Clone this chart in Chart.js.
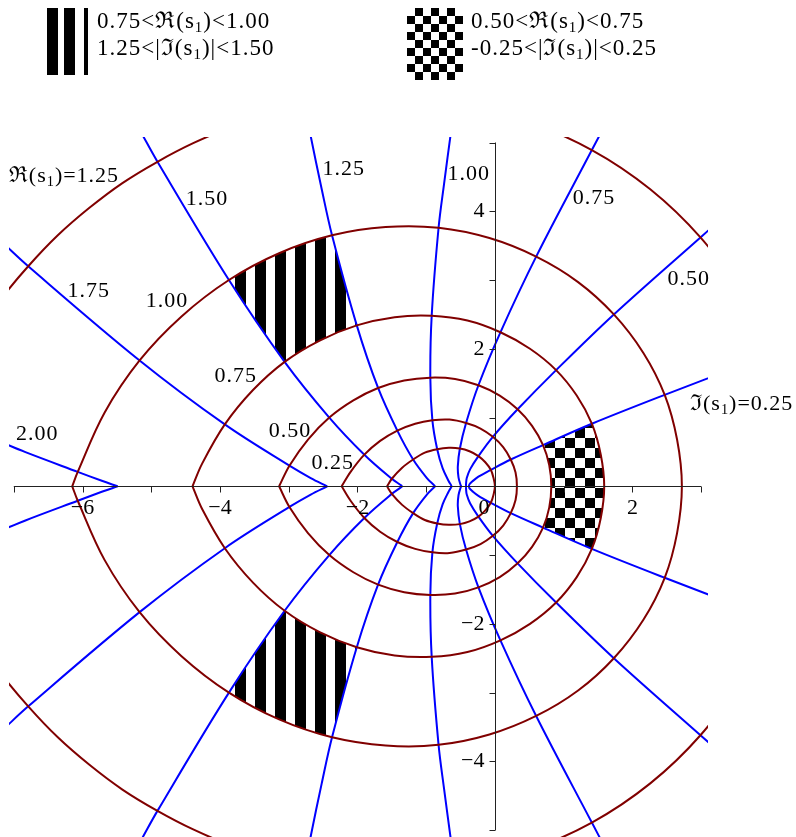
<!DOCTYPE html>
<html>
<head>
<meta charset="utf-8">
<script src="https://cdn.jsdelivr.net/npm/chart.js@4.4.1/dist/chart.umd.min.js"></script>
<style>
body { margin: 0; background: #fff; }
#wrap { position: relative; width: 796px; height: 837px; font-family: "Liberation Serif", "DejaVu Serif", serif; color: #000; overflow: hidden; }
#mycanvas { position: absolute; left: 0; top: 0; }
.lbl { position: absolute; white-space: nowrap; font-size: 22px; letter-spacing: 1px; line-height: 1; transform: translate(-50%, -50%); }
.leg { position: absolute; font-size: 23px; letter-spacing: 1px; line-height: 27px; white-space: nowrap; }
sub { font-size: 0.65em; vertical-align: -0.25em; line-height: 0; }
.bar { position: absolute; background: #000; top: 8px; height: 67px; }
.checker { position: absolute; left: 407px; top: 8px; width: 56px; height: 72px;
  background: repeating-conic-gradient(#000 0 25%, #fff 0 50%) 0 0 / 16px 16px; }
</style>
</head>
<body>
<div id="wrap">
  <canvas id="mycanvas" width="796" height="837"></canvas>
  <div class="bar" style="left:47px;width:11px"></div>
  <div class="bar" style="left:64px;width:11px"></div>
  <div class="bar" style="left:84px;width:4px"></div>
  <div class="leg" style="left:97px;top:7px">0.75&lt;ℜ(s<sub>1</sub>)&lt;1.00<br>1.25&lt;|ℑ(s<sub>1</sub>)|&lt;1.50</div>
  <div class="checker"></div>
  <div class="leg" style="left:471px;top:7px">0.50&lt;ℜ(s<sub>1</sub>)&lt;0.75<br>-0.25&lt;|ℑ(s<sub>1</sub>)|&lt;0.25</div>
</div>
<script>
// curves of constant Re(s1) (brown)
var re000 = [[-1.57,0],[-1.50,-0.11],[-1.35,-0.27],[-1.19,-0.39],[-1.02,-0.49],[-0.84,-0.54],[-0.67,-0.56],[-0.51,-0.55],[-0.37,-0.51],[-0.24,-0.44],[-0.14,-0.35],[-0.06,-0.24],[-0.02,-0.12],[0,0],
  [-0.02,0.12],[-0.06,0.24],[-0.14,0.35],[-0.24,0.44],[-0.37,0.51],[-0.51,0.55],[-0.67,0.56],[-0.84,0.54],[-1.02,0.49],[-1.19,0.39],[-1.35,0.27],[-1.50,0.11],[-1.57,0]];
var re025 = [[-2.23,0],[-2.10,-0.21],[-1.90,-0.46],[-1.67,-0.66],[-1.42,-0.81],[-1.16,-0.91],[-0.91,-0.96],[-0.66,-0.97],[-0.42,-0.92],[-0.21,-0.84],[-0.03,-0.72],[0.12,-0.57],[0.23,-0.39],[0.30,-0.20],[0.32,0],
  [0.30,0.20],[0.23,0.39],[0.12,0.57],[-0.03,0.72],[-0.21,0.84],[-0.42,0.92],[-0.66,0.97],[-0.91,0.96],[-1.16,0.91],[-1.42,0.81],[-1.67,0.66],[-1.90,0.46],[-2.10,0.21],[-2.23,0]];
var re050 = [[-3.14,0],[-2.99,-0.30],[-2.72,-0.68],[-2.41,-1.00],[-2.06,-1.25],[-1.70,-1.43],[-1.32,-1.54],[-0.94,-1.58],[-0.58,-1.56],[-0.24,-1.47],[0.07,-1.32],[0.33,-1.12],[0.54,-0.88],[0.70,-0.60],[0.79,-0.31],[0.82,0],
  [0.79,0.31],[0.70,0.60],[0.54,0.88],[0.33,1.12],[0.07,1.32],[-0.24,1.47],[-0.58,1.56],[-0.94,1.58],[-1.32,1.54],[-1.70,1.43],[-2.06,1.25],[-2.41,1.00],[-2.72,0.68],[-2.99,0.30],[-3.14,0]];
var re075 = [[-4.40,0],[-4.26,-0.33],[-3.93,-0.90],[-3.52,-1.40],[-3.06,-1.81],[-2.55,-2.12],[-2.01,-2.34],[-1.46,-2.46],[-0.92,-2.48],[-0.40,-2.41],[0.08,-2.24],[0.51,-2.00],[0.89,-1.69],[1.19,-1.32],[1.41,-0.91],[1.54,-0.46],[1.59,0],
  [1.54,0.46],[1.41,0.91],[1.19,1.32],[0.89,1.69],[0.51,2.00],[0.08,2.24],[-0.40,2.41],[-0.92,2.48],[-1.46,2.46],[-2.01,2.34],[-2.55,2.12],[-3.06,1.81],[-3.52,1.40],[-3.93,0.90],[-4.26,0.33],[-4.40,0]];
var re100 = [[-6.15,0],[-6.07,-0.21],[-5.68,-1.07],[-5.17,-1.83],[-4.56,-2.47],[-3.87,-3.00],[-3.14,-3.39],[-2.37,-3.65],[-1.59,-3.77],[-0.82,-3.76],[-0.08,-3.61],[0.60,-3.34],[1.21,-2.97],[1.73,-2.50],[2.16,-1.94],[2.47,-1.33],[2.65,-0.68],[2.72,0],
  [2.65,0.68],[2.47,1.33],[2.16,1.94],[1.73,2.50],[1.21,2.97],[0.60,3.34],[-0.08,3.61],[-0.82,3.76],[-1.59,3.77],[-2.37,3.65],[-3.14,3.39],[-3.87,3.00],[-4.56,2.47],[-5.17,1.83],[-5.68,1.07],[-6.07,0.21],[-6.15,0]];
var re125 = [[-7.55,-2.20],[-7.19,-2.72],[-6.79,-3.20],[-6.36,-3.65],[-5.90,-4.05],[-5.42,-4.41],[-4.91,-4.72],[-4.39,-4.99],[-3.86,-5.21],[-2.76,-5.52],[-1.66,-5.63],[-0.58,-5.56],[0.45,-5.31],[1.41,-4.89],[2.26,-4.32],[2.99,-3.62],[3.58,-2.82],[4.01,-1.92],[4.36,0],
  [4.01,1.92],[3.58,2.82],[2.99,3.62],[2.26,4.32],[1.41,4.89],[0.45,5.31],[-0.58,5.56],[-1.66,5.63],[-2.76,5.52],[-3.86,5.21],[-4.39,4.99],[-4.91,4.72],[-5.42,4.41],[-5.90,4.05],[-6.36,3.65],[-6.79,3.20],[-7.19,2.72],[-7.55,2.20]];

// curves of constant |Im(s1)| (blue), upper and lower branch
var im025 = [[-0.38,0],[-0.37,0.03],[-0.33,0.07],[-0.24,0.14],[-0.06,0.24],[0.23,0.39],[0.70,0.60],[1.41,0.91],[2.47,1.33],[4.01,1.92]];
var im025n = [[-0.38,0],[-0.37,-0.03],[-0.33,-0.07],[-0.24,-0.14],[-0.06,-0.24],[0.23,-0.39],[0.70,-0.60],[1.41,-0.91],[2.47,-1.33],[4.01,-1.92]];
var im050 = [[-0.42,0],[-0.42,0.04],[-0.41,0.12],[-0.36,0.25],[-0.24,0.44],[-0.03,0.72],[0.33,1.12],[0.89,1.69],[1.73,2.50],[2.99,3.62],[3.31,3.90]];
var im050n = [[-0.42,0],[-0.42,-0.04],[-0.41,-0.12],[-0.36,-0.25],[-0.24,-0.44],[-0.03,-0.72],[0.33,-1.12],[0.89,-1.69],[1.73,-2.50],[2.99,-3.62],[3.31,-3.90]];
var im075 = [[-0.49,0],[-0.50,0.02],[-0.53,0.13],[-0.54,0.29],[-0.51,0.55],[-0.42,0.92],[-0.24,1.47],[0.08,2.24],[0.60,3.34],[1.41,4.89],[1.61,5.27]];
var im075n = [[-0.49,0],[-0.50,-0.02],[-0.53,-0.13],[-0.54,-0.29],[-0.51,-0.55],[-0.42,-0.92],[-0.24,-1.47],[0.08,-2.24],[0.60,-3.34],[1.41,-4.89],[1.61,-5.27]];
var im100 = [[-0.63,0],[-0.64,0.02],[-0.67,0.07],[-0.76,0.26],[-0.84,0.54],[-0.91,0.96],[-0.94,1.58],[-0.92,2.48],[-0.82,3.76],[-0.74,4.40],[-0.64,5.15]];
var im100n = [[-0.63,0],[-0.64,-0.02],[-0.67,-0.07],[-0.76,-0.26],[-0.84,-0.54],[-0.91,-0.96],[-0.94,-1.58],[-0.92,-2.48],[-0.82,-3.76],[-0.74,-4.40],[-0.64,-5.15]];
var im125 = [[-0.87,0],[-0.88,0.01],[-0.99,0.12],[-1.19,0.39],[-1.42,0.81],[-1.70,1.43],[-2.01,2.34],[-2.37,3.65],[-2.52,4.32],[-2.68,5.09],[-2.76,5.52]];
var im125n = [[-0.87,0],[-0.88,-0.01],[-0.99,-0.12],[-1.19,-0.39],[-1.42,-0.81],[-1.70,-1.43],[-2.01,-2.34],[-2.37,-3.65],[-2.52,-4.32],[-2.68,-5.09],[-2.76,-5.52]];
var im150 = [[-1.35,0],[-1.36,0.01],[-1.50,0.11],[-1.90,0.46],[-2.41,1.00],[-3.06,1.81],[-3.87,3.00],[-4.91,4.72],[-5.15,5.15]];
var im150n = [[-1.35,0],[-1.36,-0.01],[-1.50,-0.11],[-1.90,-0.46],[-2.41,-1.00],[-3.06,-1.81],[-3.87,-3.00],[-4.91,-4.72],[-5.15,-5.15]];
var im175 = [[-2.44,0],[-2.68,0.12],[-2.99,0.30],[-3.93,0.90],[-5.17,1.83],[-6.79,3.20],[-7.17,3.55]];
var im175n = [[-2.44,0],[-2.68,-0.12],[-2.99,-0.30],[-3.93,-0.90],[-5.17,-1.83],[-6.79,-3.20],[-7.17,-3.55]];
var im200 = [[-5.49,0],[-5.72,0.08],[-6.07,0.21],[-6.84,0.50],[-7.25,0.67]];
var im200n = [[-5.49,0],[-5.72,-0.08],[-6.07,-0.21],[-6.84,-0.50],[-7.25,-0.67]];

// shaded regions
var stripesUp = [[-2.01,2.34],[-2.28,2.24],[-2.55,2.12],[-2.81,1.98],[-3.06,1.81],[-3.44,2.35],[-3.87,3.00],[-3.51,3.21],[-3.14,3.39],[-2.76,3.54],[-2.37,3.65],[-2.18,2.94]];
var stripesDown = [[-2.01,-2.34],[-2.28,-2.24],[-2.55,-2.12],[-2.81,-1.98],[-3.06,-1.81],[-3.44,-2.35],[-3.87,-3.00],[-3.51,-3.21],[-3.14,-3.39],[-2.76,-3.54],[-2.37,-3.65],[-2.18,-2.94]];
var checkerZone = [[0.70,0.60],[0.75,0.46],[0.79,0.31],[0.82,0.15],[0.82,0],[0.82,-0.15],[0.79,-0.31],[0.75,-0.46],[0.70,-0.60],[1.02,-0.74],[1.41,-0.91],[1.49,-0.69],[1.54,-0.46],[1.58,-0.23],[1.59,0],[1.58,0.23],[1.54,0.46],[1.49,0.69],[1.41,0.91],[1.02,0.74]];

// axes
var xTicks = [-7, -6, -5, -4, -3, -2, -1, 0, 1, 2, 3];
var xTickLabels = ['', '\u22126', '', '\u22124', '', '\u22122', '', '0', '', '2', ''];
var yTicks = [-5, -4, -3, -2, -1, 0, 1, 2, 3, 4, 5];
var yTickLabels = ['', '\u22124', '', '\u22122', '', '', '', '2', '', '4', ''];

// contour labels
var labelTexts = ['ℜ(s<sub>1</sub>)=1.25', '1.50', '1.25', '1.00', '0.75', '0.50', 'ℑ(s<sub>1</sub>)=0.25',
  '1.75', '1.00', '0.75', '0.50', '0.25', '2.00'];
var labelX = [-6.27, -4.19, -2.20, -0.38, 1.44, 2.82, 3.59, -5.91, -4.77, -3.77, -2.98, -2.36, -6.66];
var labelY = [4.53, 4.19, 4.63, 4.56, 4.21, 3.03, 1.21, 2.86, 2.71, 1.62, 0.82, 0.35, 0.78];

var BROWN = '#800000';
var BLUE = '#0000ff';

function toPts(arr) {
  return arr.map(function (p) { return {x: p[0], y: p[1]}; });
}
function curve(arr, color) {
  return {data: toPts(arr), showLine: true, borderColor: color, borderWidth: 2,
    pointRadius: 0, tension: 0.35, fill: false};
}
function region(arr, pattern) {
  return {data: toPts(arr), showLine: true, borderColor: 'rgba(0,0,0,0)', borderWidth: 1,
    backgroundColor: pattern, fill: 'shape', pointRadius: 0, tension: 0};
}

function makeStripes() {
  var c = document.createElement('canvas');
  c.width = 20; c.height = 20;
  var g = c.getContext('2d');
  g.fillStyle = '#fff'; g.fillRect(0, 0, 20, 20);
  g.fillStyle = '#000'; g.fillRect(0, 0, 6, 20); g.fillRect(15, 0, 5, 20);
  return g.createPattern(c, 'repeat');
}
function makeChecker() {
  var c = document.createElement('canvas');
  c.width = 20; c.height = 20;
  var g = c.getContext('2d');
  g.fillStyle = '#fff'; g.fillRect(0, 0, 20, 20);
  g.fillStyle = '#000'; g.fillRect(10, 0, 10, 10); g.fillRect(0, 10, 10, 10);
  var p = g.createPattern(c, 'repeat');
  p.setTransform(new DOMMatrix().translate(5, 8));
  return p;
}

var axesPlugin = {
  id: 'mapleAxes',
  afterDatasetsDraw: function (chart) {
    var ctx = chart.ctx, xs = chart.scales.x, ys = chart.scales.y;
    var x0 = Math.round(xs.getPixelForValue(0)) + 0.5;
    var y0 = Math.round(ys.getPixelForValue(0)) + 0.5;
    ctx.save();
    ctx.strokeStyle = '#222';
    ctx.lineWidth = 1;
    ctx.beginPath();
    ctx.moveTo(xs.getPixelForValue(xTicks[0]), y0);
    ctx.lineTo(xs.getPixelForValue(xTicks[xTicks.length - 1]), y0);
    ctx.moveTo(x0, ys.getPixelForValue(yTicks[0]));
    ctx.lineTo(x0, ys.getPixelForValue(yTicks[yTicks.length - 1]));
    xTicks.forEach(function (v) {
      var px = Math.round(xs.getPixelForValue(v)) + 0.5;
      ctx.moveTo(px, y0); ctx.lineTo(px, y0 + 6);
    });
    yTicks.forEach(function (v) {
      var py = Math.round(ys.getPixelForValue(v)) + 0.5;
      ctx.moveTo(x0, py); ctx.lineTo(x0 - 6, py);
    });
    ctx.stroke();
    ctx.fillStyle = '#000';
    ctx.font = '22px "Liberation Serif", serif';
    ctx.textAlign = 'center';
    ctx.textBaseline = 'middle';
    xTicks.forEach(function (v, i) {
      var px = xs.getPixelForValue(v);
      if (v === 0) px -= 11;
      ctx.fillText(xTickLabels[i], px, y0 + 22);
    });
    ctx.textAlign = 'right';
    yTicks.forEach(function (v, i) {
      ctx.fillText(yTickLabels[i], x0 - 11, ys.getPixelForValue(v));
    });
    ctx.restore();
  }
};

var labelsPlaced = false;
var labelPlugin = {
  id: 'contourLabels',
  afterDraw: function (chart) {
    if (labelsPlaced) return;
    labelsPlaced = true;
    var wrap = document.getElementById('wrap');
    labelTexts.forEach(function (t, i) {
      var d = document.createElement('div');
      d.className = 'lbl';
      d.innerHTML = t;
      d.style.left = chart.scales.x.getPixelForValue(labelX[i]) + 'px';
      d.style.top = chart.scales.y.getPixelForValue(labelY[i]) + 'px';
      wrap.appendChild(d);
    });
  }
};

var stripes = makeStripes();
var checker = makeChecker();

var datasets = [
  curve(re000, BROWN), curve(re025, BROWN), curve(re050, BROWN), curve(re075, BROWN), curve(re100, BROWN), curve(re125, BROWN),
  curve(im025, BLUE), curve(im025n, BLUE), curve(im050, BLUE), curve(im050n, BLUE),
  curve(im075, BLUE), curve(im075n, BLUE), curve(im100, BLUE), curve(im100n, BLUE),
  curve(im125, BLUE), curve(im125n, BLUE), curve(im150, BLUE), curve(im150n, BLUE),
  curve(im175, BLUE), curve(im175n, BLUE), curve(im200, BLUE), curve(im200n, BLUE),
  region(stripesUp, stripes), region(stripesDown, stripes), region(checkerZone, checker)
];

var graphTarget = document.getElementById('mycanvas');
var contourChart = new Chart(graphTarget, {
  type: 'scatter',
  data: {datasets: datasets},
  options: {
    responsive: false,
    animation: false,
    devicePixelRatio: 1,
    events: [],
    layout: {padding: {left: 9, right: 88, top: 137, bottom: 0}},
    plugins: {legend: {display: false}, tooltip: {enabled: false}},
    scales: {
      x: {type: 'linear', min: -7.07, max: 3.1, display: false},
      y: {type: 'linear', min: -5.1, max: 5.08, display: false}
    }
  },
  plugins: [axesPlugin, labelPlugin]
});
</script>
</body>
</html>
